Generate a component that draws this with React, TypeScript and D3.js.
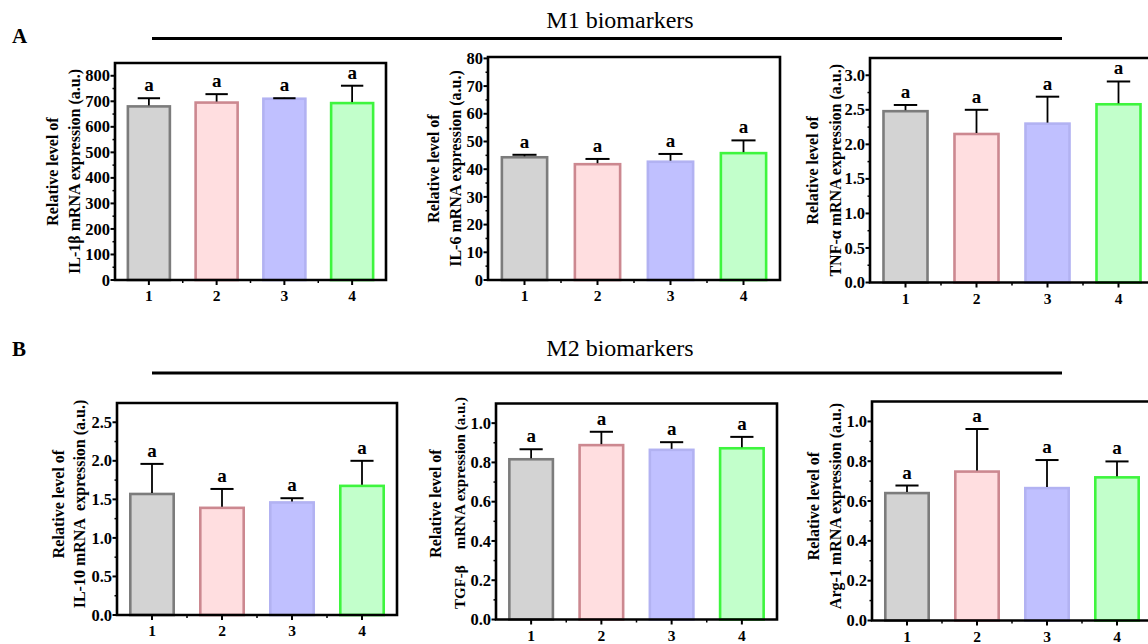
import React from 'react';
import * as d3 from 'd3';

// Treatment groups along the x axis
const categories = ['1', '2', '3', '4'];
const sigLetters = ['a', 'a', 'a', 'a'];

// M1 biomarkers: mean and upper SD
const il1bMeans = [680, 695, 710, 693];
const il1bErrors = [32, 33, 2, 68];
const il6Means = [44.3, 41.8, 42.7, 45.8];
const il6Errors = [0.9, 1.9, 2.8, 4.6];
const tnfMeans = [2.48, 2.15, 2.3, 2.58];
const tnfErrors = [0.09, 0.35, 0.39, 0.33];

// M2 biomarkers: mean and upper SD
const il10Means = [1.57, 1.39, 1.46, 1.675];
const il10Errors = [0.39, 0.245, 0.055, 0.325];
const tgfMeans = [0.816, 0.888, 0.864, 0.872];
const tgfErrors = [0.051, 0.068, 0.039, 0.058];
const arg1Means = [0.64, 0.748, 0.665, 0.719];
const arg1Errors = [0.038, 0.214, 0.141, 0.08];

// Axis tick values
const il1bTicks = [0, 100, 200, 300, 400, 500, 600, 700, 800];
const il6Ticks = [0, 10, 20, 30, 40, 50, 60, 70, 80];
const halfStepTicks = [0, 0.5, 1.0, 1.5, 2.0, 2.5, 3.0];
const il10Ticks = [0, 0.5, 1.0, 1.5, 2.0, 2.5];
const fifthTicks = [0, 0.2, 0.4, 0.6, 0.8, 1.0];

const fills = ['#d3d3d3', '#ffdee0', '#c0c0ff', '#c2ffcb'];
const strokes = ['#7c7c7c', '#cc8890', '#b2b2f2', '#3ef53e'];

const SERIF = "'Liberation Serif', 'Times New Roman', serif";

type PanelSpec = {
  means: number[];
  errors: number[];
  ticks: number[];
  fmt: string;
  yMax: number;
  x0: number;
  x1: number;
  yTop: number;
  yBottom: number;
  label1: string;
  label2: string;
  labelX1: number;
  labelX2: number;
  labelShift?: number;
  // optional split second line: prefix pinned near the axis bottom
  label2Prefix?: string;
  prefixBottom?: number;
  restTop?: number;
  label2Size?: number;
};

function BarPanel({ s }: { s: PanelSpec }) {
  const x = d3.scaleBand<string>().domain(categories).range([s.x0, s.x1]).padding(0);
  const y = d3.scaleLinear().domain([0, s.yMax]).range([s.yBottom, s.yTop]);
  const bw = x.bandwidth();
  const barW = bw * 0.62;
  const capW = bw * 0.33;
  const fmt = d3.format(s.fmt);
  const step = s.ticks[1] - s.ticks[0];
  const minor = s.ticks.map((t) => t + step / 2).filter((t) => t < s.yMax);
  const xMinor = categories.slice(0, -1).map((c) => (x(c) as number) + bw);
  const cy = (s.yTop + s.yBottom) / 2 + (s.labelShift || 0);
  const labelProps = { fontFamily: SERIF, fontWeight: 'bold', fontSize: 16 } as const;
  const label2Props = { ...labelProps, fontSize: s.label2Size || 16 };

  return (
    <g>
      {/* bars */}
      {categories.map((c, i) => {
        const cx = (x(c) as number) + bw / 2;
        return (
          <rect
            key={'b' + c}
            x={cx - barW / 2}
            y={y(s.means[i])}
            width={barW}
            height={y(0) - y(s.means[i])}
            fill={fills[i]}
            stroke={strokes[i]}
            strokeWidth={2.6}
          />
        );
      })}
      {/* upper error bars and significance letters */}
      {categories.map((c, i) => {
        const cx = (x(c) as number) + bw / 2;
        const top = y(s.means[i] + s.errors[i]);
        return (
          <g key={'e' + c}>
            <line x1={cx} x2={cx} y1={y(s.means[i]) - 1} y2={top} stroke="#000" strokeWidth={1.8} />
            <line x1={cx - capW / 2} x2={cx + capW / 2} y1={top} y2={top} stroke="#000" strokeWidth={2} />
            <text
              x={cx}
              y={top - 7}
              textAnchor="middle"
              fontFamily={SERIF}
              fontWeight="bold"
              fontSize={19}
            >
              {sigLetters[i]}
            </text>
          </g>
        );
      })}
      {/* frame */}
      <path
        d={`M${s.x0},${s.yTop}H${s.x1}V${s.yBottom}H${s.x0}Z`}
        fill="none"
        stroke="#000"
        strokeWidth={2.6}
      />
      {/* y ticks */}
      {s.ticks.map((t) => (
        <g key={'yt' + t}>
          <line x1={s.x0 - 4.5} x2={s.x0} y1={y(t)} y2={y(t)} stroke="#000" strokeWidth={2} />
          <text
            x={s.x0 - 5}
            y={y(t)}
            dy="0.34em"
            textAnchor="end"
            fontFamily={SERIF}
            fontWeight="bold"
            fontSize={16.5}
          >
            {fmt(t)}
          </text>
        </g>
      ))}
      {minor.map((t) => (
        <line key={'ym' + t} x1={s.x0 - 2.5} x2={s.x0} y1={y(t)} y2={y(t)} stroke="#000" strokeWidth={1.5} />
      ))}
      {/* x ticks */}
      {categories.map((c) => {
        const cx = (x(c) as number) + bw / 2;
        return (
          <g key={'xt' + c}>
            <line x1={cx} x2={cx} y1={s.yBottom} y2={s.yBottom + 5} stroke="#000" strokeWidth={2} />
            <text
              x={cx}
              y={s.yBottom + 21}
              textAnchor="middle"
              fontFamily={SERIF}
              fontWeight="bold"
              fontSize={15.5}
            >
              {c}
            </text>
          </g>
        );
      })}
      {xMinor.map((mx) => (
        <line key={'xm' + mx} x1={mx} x2={mx} y1={s.yBottom} y2={s.yBottom + 3} stroke="#000" strokeWidth={1.5} />
      ))}
      {/* y axis title */}
      <text transform={`translate(${s.labelX1 + 5},${cy}) rotate(-90)`} textAnchor="middle" {...labelProps}>
        {s.label1}
      </text>
      {s.label2Prefix ? (
        <g>
          <text
            transform={`translate(${s.labelX2 + 5},${s.prefixBottom}) rotate(-90)`}
            textAnchor="start"
            {...label2Props}
          >
            {s.label2Prefix}
          </text>
          <text
            transform={`translate(${s.labelX2 + 5},${s.restTop}) rotate(-90)`}
            textAnchor="end"
            {...label2Props}
          >
            {s.label2}
          </text>
        </g>
      ) : (
        <text
          transform={`translate(${s.labelX2 + 5},${cy}) rotate(-90)`}
          textAnchor="middle"
          style={{ whiteSpace: 'pre' }}
          {...label2Props}
        >
          {s.label2}
        </text>
      )}
    </g>
  );
}

const panels: PanelSpec[] = [
  {
    means: il1bMeans, errors: il1bErrors, ticks: il1bTicks, fmt: 'd', yMax: 850,
    x0: 115, x1: 386, yTop: 63, yBottom: 280,
    label1: 'Relative level of', label2: 'IL-1β mRNA expression (a.u.)', labelX1: 53, labelX2: 75,
  },
  {
    means: il6Means, errors: il6Errors, ticks: il6Ticks, fmt: 'd', yMax: 80.5,
    x0: 488, x1: 780, yTop: 57, yBottom: 280,
    label1: 'Relative level of', label2: 'IL-6 mRNA expression (a.u.)', labelX1: 434, labelX2: 456,
  },
  {
    means: tnfMeans, errors: tnfErrors, ticks: halfStepTicks, fmt: '.1f', yMax: 3.25,
    x0: 870, x1: 1154, yTop: 58, yBottom: 282.5,
    label1: 'Relative level of', label2: 'TNF-α mRNA expression (a.u.)', labelX1: 813, labelX2: 836,
  },
  {
    means: il10Means, errors: il10Errors, ticks: il10Ticks, fmt: '.1f', yMax: 2.75,
    x0: 117, x1: 397, yTop: 403, yBottom: 615,
    label1: 'Relative level of', label2: 'IL-10 mRNA  expression (a.u.)', labelX1: 59, labelX2: 80,
    labelShift: -5,
  },
  {
    means: tgfMeans, errors: tgfErrors, ticks: fifthTicks, fmt: '.1f', yMax: 1.1,
    x0: 496, x1: 777, yTop: 403.5, yBottom: 619.5,
    label1: 'Relative level of', label2: 'mRNA expression (a.u.)', labelX1: 436, labelX2: 460,
    labelShift: -8, label2Prefix: 'TGF-β', prefixBottom: 609, restTop: 397, label2Size: 15,
  },
  {
    means: arg1Means, errors: arg1Errors, ticks: fifthTicks, fmt: '.1f', yMax: 1.1,
    x0: 872, x1: 1152, yTop: 401.5, yBottom: 620.5,
    label1: 'Relative level of', label2: 'Arg-1 mRNA expression (a.u.)', labelX1: 814, labelX2: 836,
    labelShift: -5,
  },
];

export default function App() {
  return (
    <svg
      width={1148}
      height={644}
      viewBox="0 0 1148 644"
      style={{ position: 'absolute', left: 0, top: 0, background: '#fff' }}
    >
      <rect x={0} y={0} width={1148} height={644} fill="#fff" />
      {/* section A header */}
      <text x={12} y={43} fontFamily={SERIF} fontWeight="bold" fontSize={21}>A</text>
      <text x={620} y={28} textAnchor="middle" fontFamily={SERIF} fontSize={24}>M1 biomarkers</text>
      <line x1={152} x2={1062} y1={38.5} y2={38.5} stroke="#000" strokeWidth={3} />
      {/* section B header */}
      <text x={12} y={356} fontFamily={SERIF} fontWeight="bold" fontSize={21}>B</text>
      <text x={620} y={356} textAnchor="middle" fontFamily={SERIF} fontSize={24}>M2 biomarkers</text>
      <line x1={152} x2={1062} y1={373} y2={373} stroke="#000" strokeWidth={3} />
      {panels.map((p, i) => (
        <BarPanel key={i} s={p} />
      ))}
    </svg>
  );
}
